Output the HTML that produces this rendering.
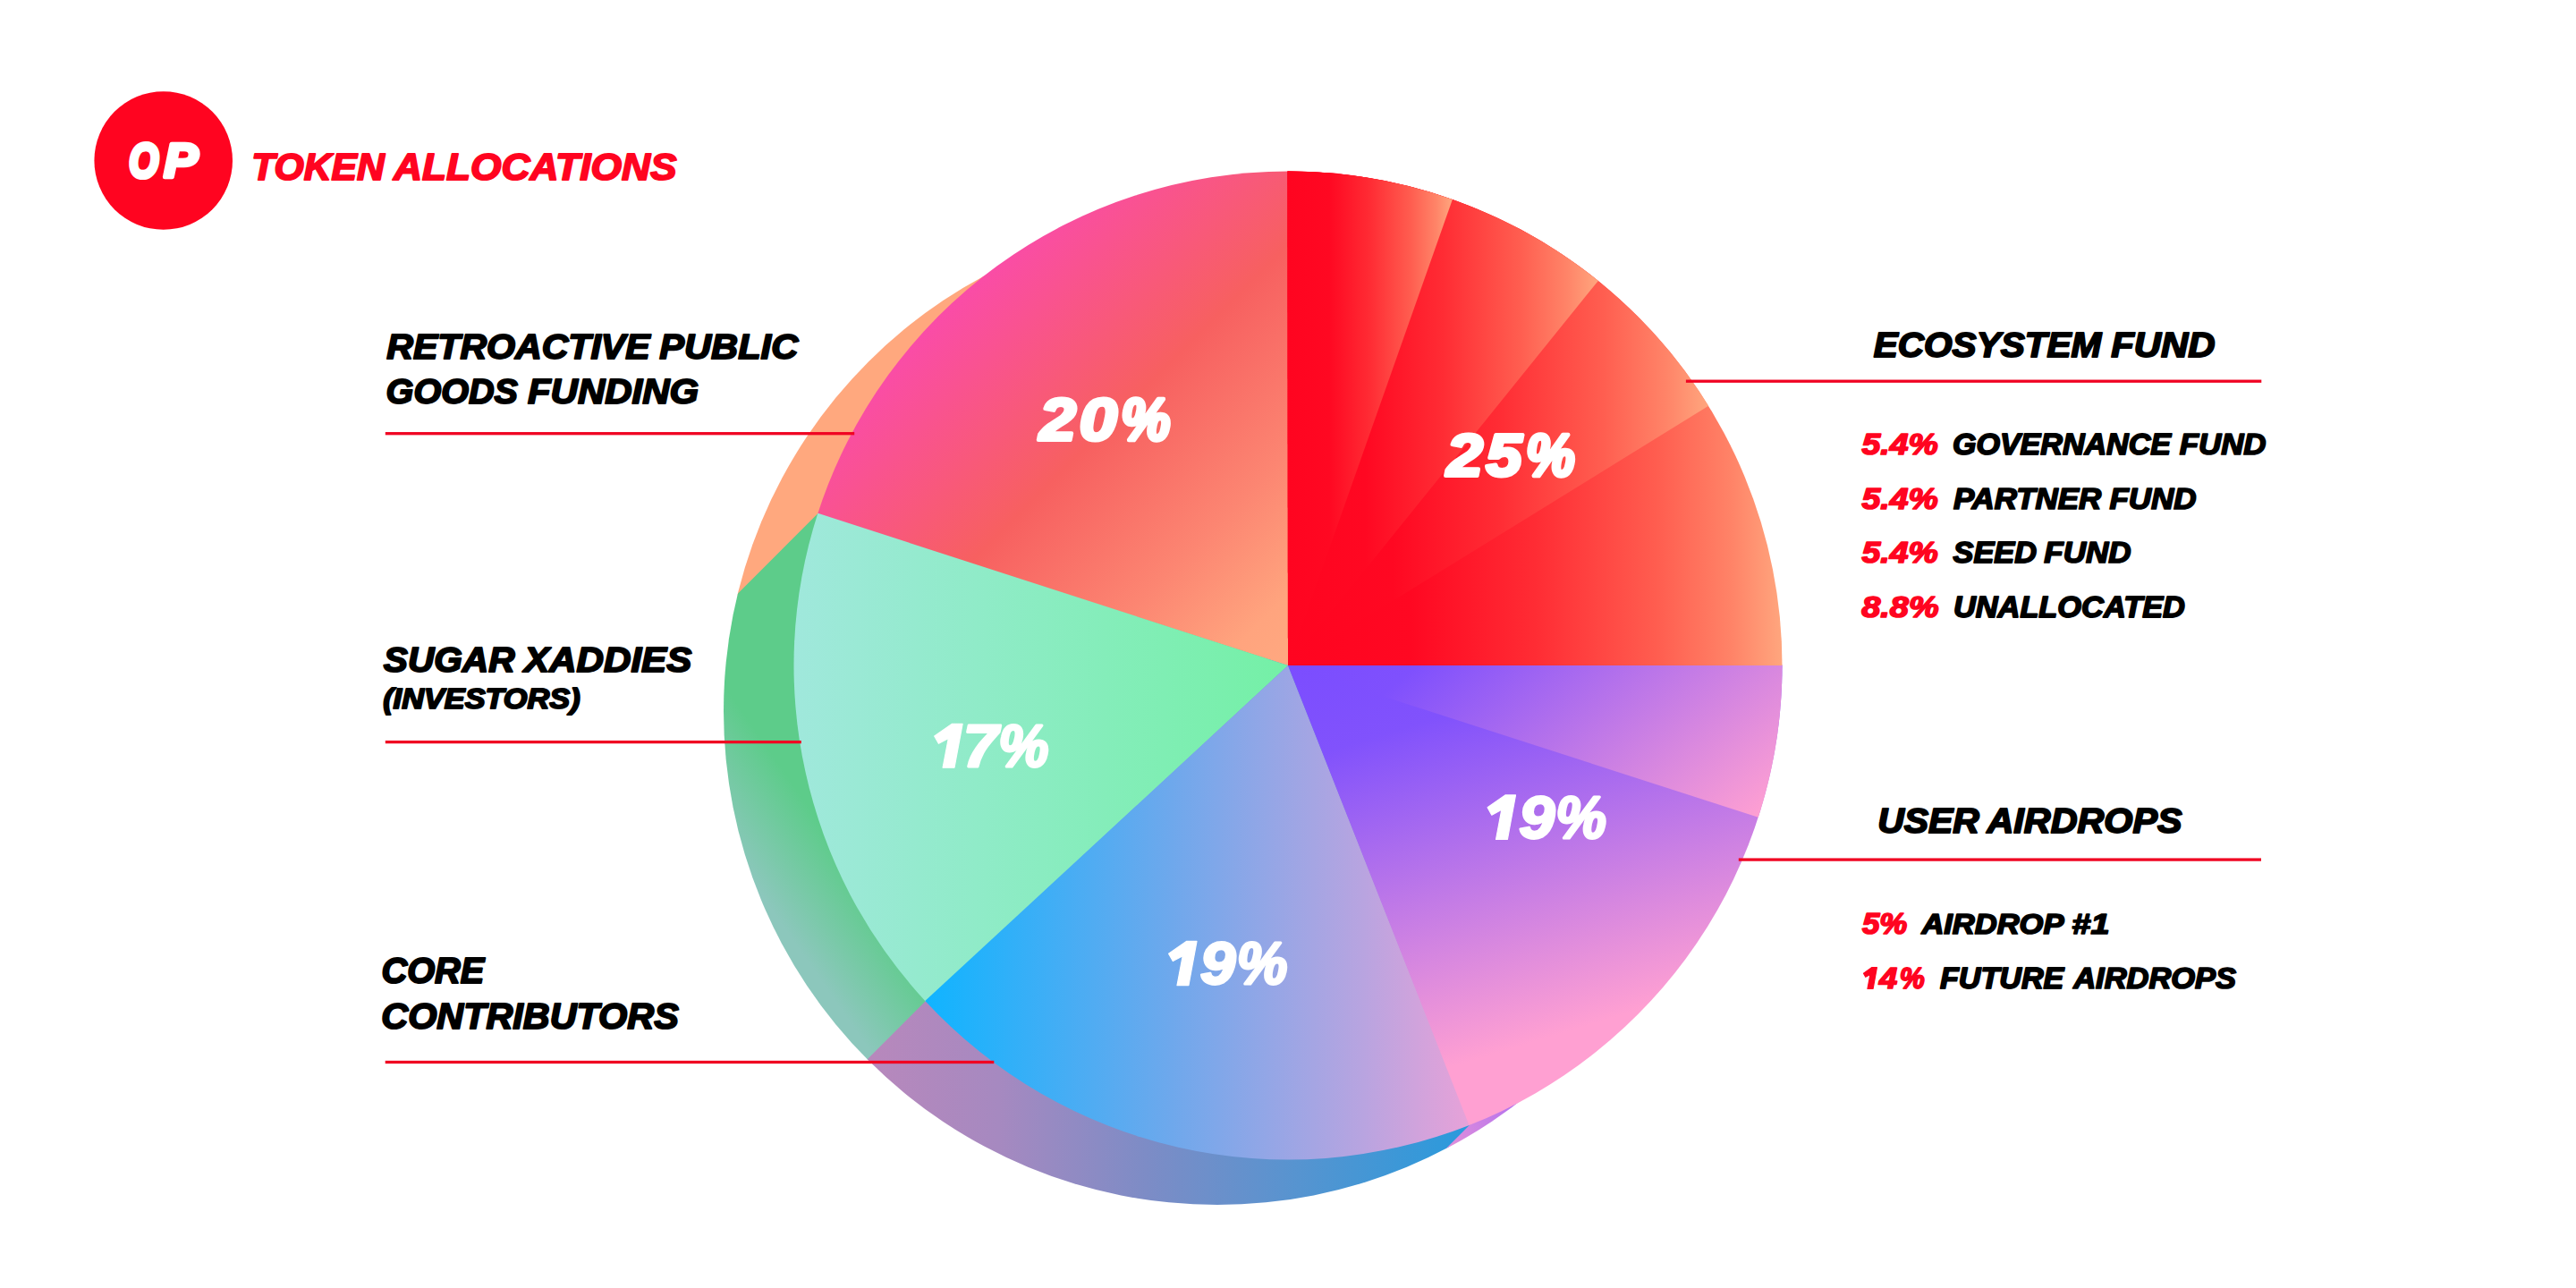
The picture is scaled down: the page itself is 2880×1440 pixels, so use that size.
<!DOCTYPE html>
<html><head><meta charset="utf-8"><title>OP Token Allocations</title>
<style>
html,body{margin:0;padding:0;background:#fff;}
svg{display:block;width:2880px;height:1440px}
text{font-family:"Liberation Sans",sans-serif;font-weight:bold;font-style:italic;font-size:200px;}
</style></head><body>
<svg width="2880" height="1440" viewBox="0 0 2880 1440">
<defs>

<linearGradient id="e0" gradientUnits="userSpaceOnUse" x1="1440" y1="0" x2="1623.88279834895" y2="0"><stop offset="0" stop-color="#FF0420"/><stop offset="0.25" stop-color="#FF0822"/><stop offset="0.5" stop-color="#FF2C34"/><stop offset="0.75" stop-color="#FF5E50"/><stop offset="0.9" stop-color="#FF8468"/><stop offset="1" stop-color="#FFA67E"/></linearGradient>
<linearGradient id="e1" gradientUnits="userSpaceOnUse" x1="1440" y1="0" x2="1786.799477113112" y2="0"><stop offset="0" stop-color="#FF0420"/><stop offset="0.25" stop-color="#FF0822"/><stop offset="0.5" stop-color="#FF2C34"/><stop offset="0.75" stop-color="#FF5E50"/><stop offset="0.9" stop-color="#FF8468"/><stop offset="1" stop-color="#FFA67E"/></linearGradient>
<linearGradient id="e2" gradientUnits="userSpaceOnUse" x1="1440" y1="0" x2="1910.1744511915672" y2="0"><stop offset="0" stop-color="#FF0420"/><stop offset="0.25" stop-color="#FF0822"/><stop offset="0.5" stop-color="#FF2C34"/><stop offset="0.75" stop-color="#FF5E50"/><stop offset="0.9" stop-color="#FF8468"/><stop offset="1" stop-color="#FFA67E"/></linearGradient>
<linearGradient id="e3" gradientUnits="userSpaceOnUse" x1="1440" y1="0" x2="1992.5" y2="0"><stop offset="0" stop-color="#FF0420"/><stop offset="0.25" stop-color="#FF0822"/><stop offset="0.5" stop-color="#FF2C34"/><stop offset="0.75" stop-color="#FF5E50"/><stop offset="0.9" stop-color="#FF8468"/><stop offset="1" stop-color="#FFA67E"/></linearGradient>
<linearGradient id="g20" gradientUnits="userSpaceOnUse" x1="1049" y1="352" x2="1440" y2="743"><stop offset="0" stop-color="#FA4CA8"/><stop offset="0.4" stop-color="#F76060"/><stop offset="0.7" stop-color="#FC8672"/><stop offset="0.9" stop-color="#FFA47E"/><stop offset="1" stop-color="#FFA880"/></linearGradient>
<linearGradient id="g17" gradientUnits="userSpaceOnUse" x1="887" y1="0" x2="1440" y2="0"><stop offset="0" stop-color="#A0E8DC"/><stop offset="1" stop-color="#74F0A6"/></linearGradient>
<linearGradient id="g19c" gradientUnits="userSpaceOnUse" x1="1035" y1="0" x2="1645" y2="0"><stop offset="0" stop-color="#10B4FF"/><stop offset="0.45" stop-color="#6EA8EC"/><stop offset="0.8" stop-color="#B8A4E0"/><stop offset="1" stop-color="#E8A2D8"/></linearGradient>
<linearGradient id="ga1" gradientUnits="userSpaceOnUse" x1="1440" y1="743" x2="1742" y2="1103"><stop offset="0" stop-color="#7B4DFF"/><stop offset="0.2" stop-color="#7F50FD"/><stop offset="1" stop-color="#FFA0D2"/></linearGradient>
<linearGradient id="ga2" gradientUnits="userSpaceOnUse" x1="1440" y1="744" x2="1593.3" y2="1245.9"><stop offset="0" stop-color="#7B4DFF"/><stop offset="0.2" stop-color="#8152FC"/><stop offset="0.92" stop-color="#FFA0D2"/><stop offset="1" stop-color="#FFA0D2"/></linearGradient>
<linearGradient id="sg" gradientUnits="userSpaceOnUse" x1="900" y1="896" x2="818" y2="953"><stop offset="0" stop-color="#5DCC8A"/><stop offset="1" stop-color="#8CC7BC"/></linearGradient>
<linearGradient id="sp" gradientUnits="userSpaceOnUse" x1="1617" y1="1283" x2="1703" y2="1230"><stop offset="0" stop-color="#E290DA"/><stop offset="1" stop-color="#B070F0"/></linearGradient>
<linearGradient id="sb" gradientUnits="userSpaceOnUse" x1="969" y1="0" x2="1640" y2="0"><stop offset="0" stop-color="#B888BC"/><stop offset="0.22" stop-color="#A689C0"/><stop offset="0.47" stop-color="#7C8CC6"/><stop offset="0.72" stop-color="#5694D0"/><stop offset="1" stop-color="#2A9ADC"/></linearGradient>
<clipPath id="sc"><circle cx="1361" cy="795" r="552"/></clipPath>
</defs>

<g clip-path="url(#sc)">
<polygon points="-1000.00,-1000.00 3000.00,-5000.00 3000.00,-1510.07 -1000.00,2489.93" fill="#FFA87E"/>
<polygon points="-1000.00,2488.43 3000.00,-1511.57 3000.00,-844.49 -1000.00,3155.51" fill="url(#sg)"/>
<polygon points="-1000.00,3154.01 3000.00,-845.99 3000.00,-97.68 -1000.00,3902.32" fill="url(#sb)"/>
<polygon points="-1000.00,3900.82 3000.00,-99.18 3000.00,3000.00 -1000.00,7000.00" fill="url(#sp)"/>
</g>
<path d="M1440 744L914.10 574.64A552.5 552.5 0 0 1 1440.48 191.50Z" fill="url(#g20)"/>
<path d="M1440 744L1034.94 1119.74A552.5 552.5 0 0 1 914.39 573.73Z" fill="url(#g17)"/>
<path d="M1440 744L1643.39 1257.70A552.5 552.5 0 0 1 1034.29 1119.04Z" fill="url(#g19c)"/>
<path d="M1440 744L1992.50 743.52A552.5 552.5 0 0 1 1642.49 1258.06Z" fill="url(#ga2)"/>
<path d="M1440 744L1992.50 743.52A552.5 552.5 0 0 1 1965.76 913.81Z" fill="url(#ga1)"/>
<path d="M1440 744L1439.52 191.50A552.5 552.5 0 0 1 1992.50 744.00Z" fill="url(#e3)"/>
<path d="M1440 744L1439.52 191.50A552.5 552.5 0 0 1 1910.17 453.84Z" fill="url(#e2)"/>
<path d="M1440 744L1439.52 191.50A552.5 552.5 0 0 1 1786.80 313.90Z" fill="url(#e1)"/>
<path d="M1440 744L1439.52 191.50A552.5 552.5 0 0 1 1623.88 223.00Z" fill="url(#e0)"/>
<circle cx="182.7" cy="179.5" r="77.3" fill="#FF0420"/>
<rect x="430.8" y="483.05" width="524.4" height="3.3" fill="#F00422"/>
<rect x="430.8" y="827.95" width="465.0" height="3.3" fill="#F00422"/>
<rect x="430.7" y="1185.85" width="680.6" height="3.3" fill="#F00422"/>
<rect x="1884.9" y="424.55" width="643.4" height="3.3" fill="#F00422"/>
<rect x="1943.8" y="959.45" width="584.2" height="3.3" fill="#F00422"/>
<text transform="matrix(0.21197 0 0 0.26972 144.28 197.76)" fill="#FFFFFF" stroke="#FFFFFF" stroke-width="19.10" stroke-linejoin="round">O</text><text transform="matrix(0.28462 0 0 0.26972 183.26 197.76)" fill="#FFFFFF" stroke="#FFFFFF" stroke-width="16.60" stroke-linejoin="round">P</text>
<text transform="matrix(0.21327 0 0 0.21338 281.21 201.37)" fill="#FF0420" stroke="#FF0420" stroke-width="9.38" stroke-linejoin="round">TOKEN</text><text transform="matrix(0.22152 0 0 0.21338 439.89 201.37)" fill="#FF0420" stroke="#FF0420" stroke-width="9.20" stroke-linejoin="round">ALLOCATIONS</text>
<text transform="matrix(0.20537 0 0 0.19718 432.28 400.61)" fill="#000000" stroke="#000000" stroke-width="9.94" stroke-linejoin="round">RETROACTIVE</text><text transform="matrix(0.20821 0 0 0.19718 737.27 400.61)" fill="#000000" stroke="#000000" stroke-width="9.87" stroke-linejoin="round">PUBLIC</text>
<text transform="matrix(0.19781 0 0 0.19789 431.62 451.20)" fill="#000000" stroke="#000000" stroke-width="10.11" stroke-linejoin="round">GOODS</text><text transform="matrix(0.21000 0 0 0.19789 589.96 451.20)" fill="#000000" stroke="#000000" stroke-width="9.81" stroke-linejoin="round">FUNDING</text>
<text transform="matrix(0.20320 0 0 0.19648 428.79 750.91)" fill="#000000" stroke="#000000" stroke-width="10.01" stroke-linejoin="round">SUGAR</text><text transform="matrix(0.21071 0 0 0.19648 586.00 750.91)" fill="#000000" stroke="#000000" stroke-width="9.82" stroke-linejoin="round">XADDIES</text>
<text transform="matrix(0.17148 0 0 0.15829 428.20 791.95)" fill="#000000" stroke="#000000" stroke-width="12.13" stroke-linejoin="round">(INVESTORS)</text>
<text transform="matrix(0.19895 0 0 0.19930 426.41 1098.80)" fill="#000000" stroke="#000000" stroke-width="10.04" stroke-linejoin="round">CORE</text>
<text transform="matrix(0.20683 0 0 0.20070 426.33 1149.60)" fill="#000000" stroke="#000000" stroke-width="9.82" stroke-linejoin="round">CONTRIBUTORS</text>
<text transform="matrix(0.20271 0 0 0.19507 2094.79 398.91)" fill="#000000" stroke="#000000" stroke-width="10.06" stroke-linejoin="round">ECOSYSTEM</text><text transform="matrix(0.20952 0 0 0.19507 2360.26 398.91)" fill="#000000" stroke="#000000" stroke-width="9.89" stroke-linejoin="round">FUND</text>
<text transform="matrix(0.18728 0 0 0.16596 2081.43 508.37)" fill="#FF0420" stroke="#FF0420" stroke-width="10.19" stroke-linejoin="round">5.4%</text>
<text transform="matrix(0.17038 0 0 0.16408 2182.90 508.37)" fill="#000000" stroke="#000000" stroke-width="10.76" stroke-linejoin="round">GOVERNANCE</text><text transform="matrix(0.17436 0 0 0.16408 2436.70 508.37)" fill="#000000" stroke="#000000" stroke-width="10.64" stroke-linejoin="round">FUND</text>
<text transform="matrix(0.18728 0 0 0.16596 2081.43 568.77)" fill="#FF0420" stroke="#FF0420" stroke-width="10.19" stroke-linejoin="round">5.4%</text>
<text transform="matrix(0.17444 0 0 0.16429 2183.90 568.67)" fill="#000000" stroke="#000000" stroke-width="10.63" stroke-linejoin="round">PARTNER</text><text transform="matrix(0.17509 0 0 0.16429 2358.40 568.67)" fill="#000000" stroke="#000000" stroke-width="10.61" stroke-linejoin="round">FUND</text>
<text transform="matrix(0.18728 0 0 0.16596 2081.43 629.17)" fill="#FF0420" stroke="#FF0420" stroke-width="10.19" stroke-linejoin="round">5.4%</text>
<text transform="matrix(0.17183 0 0 0.16338 2183.48 629.07)" fill="#000000" stroke="#000000" stroke-width="10.74" stroke-linejoin="round">SEED</text><text transform="matrix(0.17509 0 0 0.16338 2285.30 629.07)" fill="#000000" stroke="#000000" stroke-width="10.64" stroke-linejoin="round">FUND</text>
<text transform="matrix(0.18949 0 0 0.16479 2081.23 689.57)" fill="#FF0420" stroke="#FF0420" stroke-width="10.16" stroke-linejoin="round">8.8%</text>
<text transform="matrix(0.17188 0 0 0.16479 2183.94 689.67)" fill="#000000" stroke="#000000" stroke-width="10.69" stroke-linejoin="round">UNALLOCATED</text>
<text transform="matrix(0.20480 0 0 0.19718 2099.14 931.21)" fill="#000000" stroke="#000000" stroke-width="9.95" stroke-linejoin="round">USER</text><text transform="matrix(0.20653 0 0 0.19718 2221.53 931.21)" fill="#000000" stroke="#000000" stroke-width="9.91" stroke-linejoin="round">AIRDROPS</text>
<text transform="matrix(0.17402 0 0 0.16312 2081.95 1044.07)" fill="#FF0420" stroke="#FF0420" stroke-width="10.68" stroke-linejoin="round">5%</text>
<text transform="matrix(0.17249 0 0 0.16127 2148.39 1043.98)" fill="#000000" stroke="#000000" stroke-width="10.79" stroke-linejoin="round">AIRDROP</text><text transform="matrix(0.18927 0 0 0.16127 2316.36 1043.98)" fill="#000000" stroke="#000000" stroke-width="10.27" stroke-linejoin="round">#1</text>
<polygon points="2092.89,1081.60 2098.40,1081.60 2094.08,1105.40 2087.97,1105.40 2090.95,1089.45 2085.74,1092.31 2083.50,1088.26" fill="#FF0420" stroke="#FF0420" stroke-width="1.2" stroke-linejoin="round"/><text transform="matrix(0.18198 0 0 0.16571 2100.95 1104.93)" fill="#FF0420" stroke="#FF0420" stroke-width="10.35" stroke-linejoin="round">4</text><text transform="matrix(0.15776 0 0 0.16571 2123.86 1104.93)" fill="#FF0420" stroke="#FF0420" stroke-width="11.13" stroke-linejoin="round">%</text>
<text transform="matrix(0.17057 0 0 0.16197 2169.02 1104.78)" fill="#000000" stroke="#000000" stroke-width="10.83" stroke-linejoin="round">FUTURE</text><text transform="matrix(0.17237 0 0 0.16197 2318.19 1104.78)" fill="#000000" stroke="#000000" stroke-width="10.77" stroke-linejoin="round">AIRDROPS</text>
<text transform="matrix(0.36607 0 0 0.33239 1162.30 492.04)" fill="#FFFFFF" stroke="#FFFFFF" stroke-width="12.60" stroke-linejoin="round">2</text><text transform="matrix(0.37921 0 0 0.33239 1206.67 492.04)" fill="#FFFFFF" stroke="#FFFFFF" stroke-width="12.37" stroke-linejoin="round">0</text><text transform="matrix(0.31056 0 0 0.33239 1253.28 492.04)" fill="#FFFFFF" stroke="#FFFFFF" stroke-width="13.69" stroke-linejoin="round">%</text>
<text transform="matrix(0.36250 0 0 0.33239 1617.39 532.44)" fill="#FFFFFF" stroke="#FFFFFF" stroke-width="12.66" stroke-linejoin="round">2</text><text transform="matrix(0.35856 0 0 0.33239 1661.38 532.44)" fill="#FFFFFF" stroke="#FFFFFF" stroke-width="12.74" stroke-linejoin="round">5</text><text transform="matrix(0.30807 0 0 0.33239 1706.01 532.44)" fill="#FFFFFF" stroke="#FFFFFF" stroke-width="13.74" stroke-linejoin="round">%</text>
<polygon points="1064.48,809.30 1076.10,809.30 1066.99,858.20 1054.12,858.20 1060.40,825.44 1049.41,831.31 1044.70,822.99" fill="#FFFFFF" stroke="#FFFFFF" stroke-width="1.2" stroke-linejoin="round"/><text transform="matrix(0.35238 0 0 0.33643 1076.77 856.96)" fill="#FFFFFF" stroke="#FFFFFF" stroke-width="8.71" stroke-linejoin="round">7</text><text transform="matrix(0.31677 0 0 0.33643 1116.22 856.96)" fill="#FFFFFF" stroke="#FFFFFF" stroke-width="9.19" stroke-linejoin="round">%</text>
<polygon points="1326.38,1052.40 1338.00,1052.40 1328.89,1101.70 1316.02,1101.70 1322.30,1068.67 1311.31,1074.58 1306.60,1066.20" fill="#FFFFFF" stroke="#FFFFFF" stroke-width="1.2" stroke-linejoin="round"/><text transform="matrix(0.35619 0 0 0.33451 1341.82 1100.13)" fill="#FFFFFF" stroke="#FFFFFF" stroke-width="8.69" stroke-linejoin="round">9</text><text transform="matrix(0.31925 0 0 0.33451 1382.79 1100.13)" fill="#FFFFFF" stroke="#FFFFFF" stroke-width="9.18" stroke-linejoin="round">%</text>
<polygon points="1682.88,888.90 1694.50,888.90 1685.39,938.50 1672.52,938.50 1678.80,905.27 1667.81,911.22 1663.10,902.79" fill="#FFFFFF" stroke="#FFFFFF" stroke-width="1.2" stroke-linejoin="round"/><text transform="matrix(0.36000 0 0 0.33662 1698.30 936.93)" fill="#FFFFFF" stroke="#FFFFFF" stroke-width="8.61" stroke-linejoin="round">9</text><text transform="matrix(0.31925 0 0 0.33662 1739.29 936.93)" fill="#FFFFFF" stroke="#FFFFFF" stroke-width="9.15" stroke-linejoin="round">%</text>
</svg></body></html>
